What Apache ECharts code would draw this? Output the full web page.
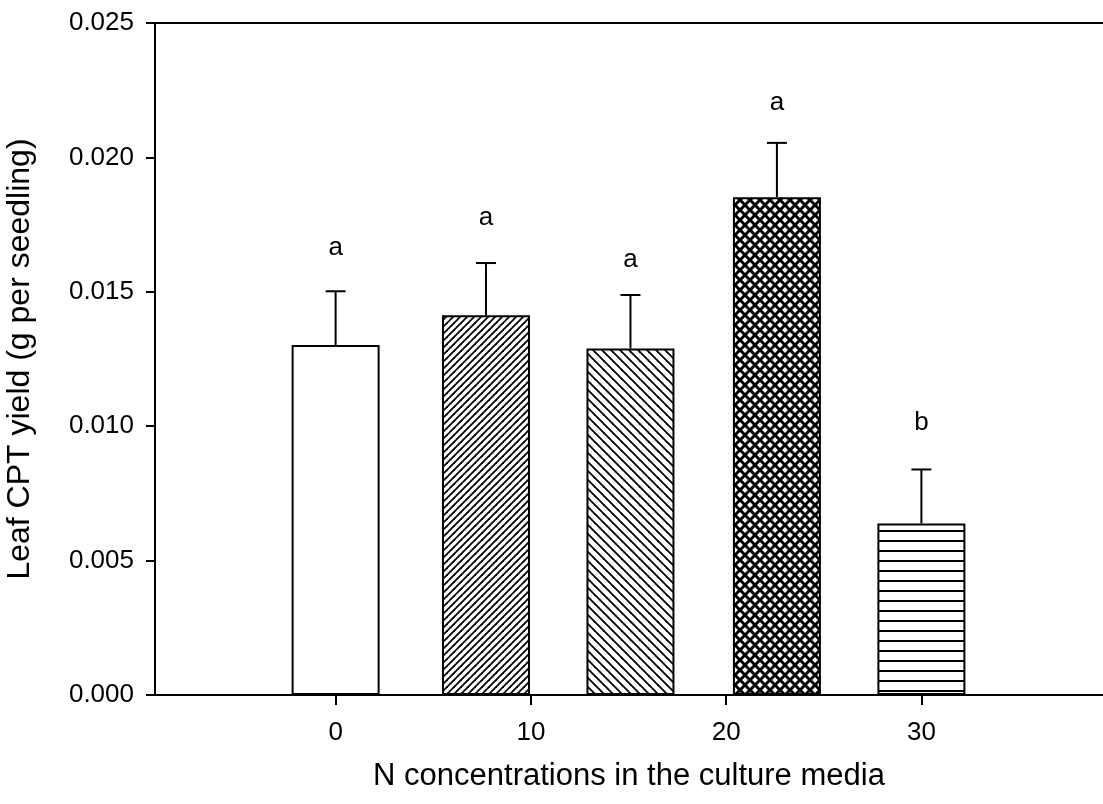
<!DOCTYPE html>
<html>
<head>
<meta charset="utf-8">
<script src="https://cdn.jsdelivr.net/npm/echarts@6/dist/echarts.min.js"></script>
<style>
html,body{margin:0;padding:0;background:#fff;}
#chart{width:1103px;height:804px;}
</style>
</head>
<body>
<div id="chart"></div>
<script>
// ---- data ----
var barX = [0, 7.7, 15.1, 22.6, 30];
var means = [0.01302, 0.01413, 0.01289, 0.01852, 0.00638];
var errors = [0.00200, 0.00194, 0.00199, 0.00202, 0.00201];
var letters = ['a', 'a', 'a', 'a', 'b'];
var letterY = [0.01663, 0.01774, 0.01618, 0.02202, 0.01011];
var xTickValues = [0, 10, 20, 30];
var patterns = ['none', 'diagUp', 'diagDown', 'cross', 'horiz'];

// ---- pattern tiles ----
function makeTile(kind) {
  var c = document.createElement('canvas');
  var ctx, s;
  if (kind === 'none') return '#ffffff';
  if (kind === 'horiz') {
    c.width = 10; c.height = 10;
    ctx = c.getContext('2d');
    ctx.fillStyle = '#fff'; ctx.fillRect(0, 0, 10, 10);
    ctx.fillStyle = '#000'; ctx.fillRect(0, 0, 10, 2);
    return { image: c, repeat: 'repeat' };
  }
  s = (kind === 'diagDown') ? 9 : (kind === 'cross' ? 10 : 7);
  c.width = s; c.height = s;
  ctx = c.getContext('2d');
  ctx.fillStyle = '#fff'; ctx.fillRect(0, 0, s, s);
  ctx.strokeStyle = '#000';
  ctx.lineWidth = (kind === 'cross') ? 3 : 1.8;
  function seg(x1, y1, x2, y2) {
    ctx.beginPath(); ctx.moveTo(x1, y1); ctx.lineTo(x2, y2); ctx.stroke();
  }
  function up() {
    seg(-1, s + 1, s + 1, -1);
    seg(-s, s, s, -s);
    seg(0, 2 * s, 2 * s, 0);
  }
  function down() {
    seg(-1, -1, s + 1, s + 1);
    seg(-s, 0, s, 2 * s);
    seg(0, -s, 2 * s, s);
  }
  if (kind === 'diagUp') up();
  else if (kind === 'diagDown') down();
  else { up(); down(); }
  return { image: c, repeat: 'repeat' };
}

var barData = barX.map(function (x, i) {
  return {
    value: [x, means[i]],
    itemStyle: { color: makeTile(patterns[i]), borderColor: '#000', borderWidth: 2 }
  };
});
var errData = barX.map(function (x, i) {
  return [x, means[i], means[i] + errors[i], letterY[i], i];
});

var chart = echarts.init(document.getElementById('chart'), null, { renderer: 'canvas' });
var FONT = 'Liberation Sans, Arial, sans-serif';
chart.setOption({
  animation: false,
  backgroundColor: '#ffffff',
  grid: { left: 155, top: 23, right: 0, bottom: 109, containLabel: false, outerBoundsMode: 'none' },
  xAxis: [{
    type: 'value',
    min: -9.25, max: 39.3,
    position: 'bottom',
    splitLine: { show: false },
    axisLine: { show: true, onZero: false, lineStyle: { color: '#000', width: 2 } },
    axisTick: { show: true, inside: false, length: 10, lineStyle: { color: '#000', width: 2 }, customValues: xTickValues },
    axisLabel: { show: true, margin: 25, fontSize: 26, color: '#000', fontFamily: FONT, customValues: xTickValues },
    name: 'N concentrations in the culture media',
    nameLocation: 'middle',
    nameGap: 66,
    nameTextStyle: { fontSize: 31, color: '#000', fontFamily: FONT }
  }, {
    type: 'value',
    min: -9.25, max: 39.3,
    position: 'top',
    splitLine: { show: false },
    axisLine: { show: true, onZero: false, lineStyle: { color: '#000', width: 2 } },
    axisTick: { show: false },
    axisLabel: { show: false }
  }],
  yAxis: {
    type: 'value',
    min: 0, max: 0.025, interval: 0.005,
    position: 'left',
    splitLine: { show: false },
    axisLine: { show: true, onZero: false, lineStyle: { color: '#000', width: 2 } },
    axisTick: { show: true, inside: false, length: 9, lineStyle: { color: '#000', width: 2 } },
    axisLabel: {
      margin: 21, fontSize: 26, color: '#000', fontFamily: FONT,
      formatter: function (v) { return v.toFixed(3); }
    },
    name: 'Leaf CPT yield (g per seedling)',
    nameLocation: 'middle',
    nameGap: 119,
    nameRotate: 90,
    nameTextStyle: { fontSize: 32, color: '#000', fontFamily: FONT }
  },
  series: [{
    type: 'bar',
    data: barData,
    barWidth: 88,
    z: 2
  }, {
    type: 'custom',
    data: errData,
    z: 3,
    renderItem: function (params, api) {
      var x = api.value(0);
      var top = api.coord([x, api.value(1)]);
      var cap = api.coord([x, api.value(2)]);
      var lab = api.coord([x, api.value(3)]);
      var idx = api.value(4);
      return {
        type: 'group',
        children: [{
          type: 'line',
          shape: { x1: top[0], y1: top[1], x2: cap[0], y2: cap[1] },
          style: { stroke: '#000', lineWidth: 2 }
        }, {
          type: 'line',
          shape: { x1: cap[0] - 10, y1: cap[1], x2: cap[0] + 10, y2: cap[1] },
          style: { stroke: '#000', lineWidth: 2 }
        }, {
          type: 'text',
          x: lab[0], y: lab[1],
          style: {
            text: letters[idx], fill: '#000', fontSize: 26, fontFamily: FONT,
            align: 'center', verticalAlign: 'middle'
          }
        }]
      };
    }
  }]
});
</script>
</body>
</html>
